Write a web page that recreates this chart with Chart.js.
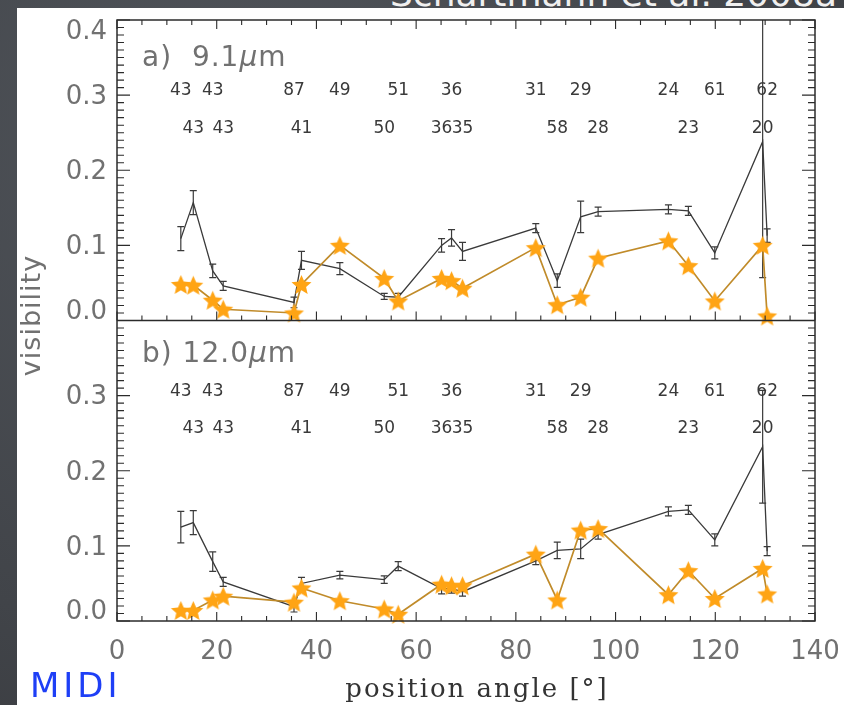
<!DOCTYPE html>
<html>
<head>
<meta charset="utf-8">
<script src="https://cdn.jsdelivr.net/npm/chart.js@4.4.1/dist/chart.umd.min.js"></script>
<style>
  html, body { margin: 0; padding: 0; }
  body {
    width: 844px; height: 705px; overflow: hidden; position: relative;
    background: radial-gradient(ellipse at 30% 20%, #51555b 0%, #414449 65%, #37393d 100%);
  }
  #sheet { position: absolute; left: 17px; top: 8px; right: 0; bottom: 0; background: #fff; }
  #cite {
    position: absolute; left: 390px; top: -24px; line-height: 36px;
    font-family: "DejaVu Sans"; font-size: 36px; color: #f0f0f0; white-space: nowrap;
  }
  #midi {
    position: absolute; left: 30px; top: 668px; line-height: 34px;
    font-family: "DejaVu Sans"; font-size: 34px; letter-spacing: 4px; color: #1e3ff6;
  }
  #plot { position: absolute; left: 0; top: 0; }
</style>
</head>
<body>
<div id="sheet"></div>
<div id="cite">Schartmann et al. 2008a</div>
<canvas id="plot" width="844" height="705"></canvas>
<div id="midi">MIDI</div>

<script>
// position angles of the 21 baselines (degrees)
const angle = [12.8, 15.3, 19.2, 21.3, 35.5, 37.0, 44.7, 53.6, 56.4, 65.1, 67.1,
               69.3, 84.0, 88.3, 93.0, 96.5, 110.6, 114.6, 119.9, 129.5, 130.4];

// projected baseline length printed above each point
const baseLen = [43, 43, 43, 43, 87, 41, 49, 50, 51, 36, 36,
                 35, 31, 58, 29, 28, 24, 23, 61, 20, 62];

// a) 9.1 micron: measured visibility, its error, and the model (stars)
const visA = [0.109, 0.157, 0.066, 0.046, 0.024, 0.080, 0.069, 0.032, 0.031, 0.100, 0.110,
              0.092, 0.123, 0.053, 0.138, 0.145, 0.148, 0.146, 0.090, 0.238, 0.113];
const errA = [0.016, 0.016, 0.009, 0.006, 0.007, 0.012, 0.008, 0.004, 0.005, 0.009, 0.011,
              0.012, 0.006, 0.009, 0.021, 0.006, 0.006, 0.006, 0.008, 0.181, 0.009];
const modelA = [0.048, 0.047, 0.027, 0.015, 0.010, 0.048, 0.100, 0.056, 0.026, 0.056, 0.053,
                0.043, 0.097, 0.021, 0.031, 0.083, 0.106, 0.073, 0.026, 0.100, 0.006];

// b) 12.0 micron
const visB = [0.125, 0.131, 0.079, 0.052, 0.019, 0.050, 0.061, 0.055, 0.073, 0.043, 0.043,
              0.039, 0.080, 0.094, 0.096, 0.115, 0.146, 0.148, 0.108, 0.232, 0.093];
const errB = [0.021, 0.016, 0.013, 0.006, 0.007, 0.008, 0.005, 0.005, 0.006, 0.007, 0.006,
              0.006, 0.005, 0.011, 0.013, 0.006, 0.006, 0.006, 0.008, 0.075, 0.006];
const modelB = [0.014, 0.014, 0.028, 0.033, 0.025, 0.044, 0.027, 0.016, 0.009, 0.049, 0.047,
                0.047, 0.089, 0.028, 0.121, 0.123, 0.035, 0.067, 0.030, 0.070, 0.036];

const xTicks = [0, 20, 40, 60, 80, 100, 120, 140];
const yTicksTop = [0, 0.1, 0.2, 0.3, 0.4];
const yTicksBot = [0, 0.1, 0.2, 0.3];

const INK = '#2b2b2b';
const LABEL = '#717171';
const sans = 'DejaVu Sans';

function pairs(xs, ys) {
  return xs.map((x, i) => ({ x: x, y: ys[i] }));
}

// filled five-pointed star used as the model marker
function makeStar(r) {
  const size = Math.ceil(r * 2 + 4);
  const c = document.createElement('canvas');
  c.width = c.height = size;
  const g = c.getContext('2d');
  g.translate(size / 2, size / 2 + 1);
  g.beginPath();
  for (let i = 0; i < 10; i++) {
    const rad = i % 2 ? r * 0.46 : r;
    const a = -Math.PI / 2 + i * Math.PI / 5;
    g.lineTo(rad * Math.cos(a), rad * Math.sin(a));
  }
  g.closePath();
  g.fillStyle = '#ffa414';
  g.fill();
  return c;
}
const star = makeStar(10.5);

// scales should not push the plot box in to make room for end labels
function noEdgePadding(s) {
  s.paddingLeft = 0;
  s.paddingRight = 0;
  s.paddingTop = 0;
  s.paddingBottom = 0;
}

// keep the end labels of a panel inside its box (pad with a blank line)
function yLabel(v) {
  const txt = v.toFixed(1);
  if (v === 0) return [txt, ''];
  if (v >= 0.4) return ['', txt];
  return txt;
}

// box, inward ticks, error bars and text annotations
const frame = {
  id: 'frame',
  beforeDatasetsDraw(chart) {
    const ctx = chart.ctx, x = chart.scales.x;
    ctx.save();
    ctx.fillStyle = '#3a3a3a';
    ctx.font = '17px "' + sans + '"';
    ctx.textAlign = 'center';
    ctx.textBaseline = 'middle';
    [chart.scales.yTop, chart.scales.yBot].forEach(s => {
      angle.forEach((a, i) => {
        const row = i % 2 === 0 ? 0.306 : 0.256;
        ctx.fillText(String(baseLen[i]), x.getPixelForValue(a), s.getPixelForValue(row));
      });
    });
    ctx.restore();
  },
  afterDatasetDraw(chart, args) {
    const ds = chart.data.datasets[args.index];
    if (!ds.errors) return;
    const ctx = chart.ctx, area = chart.chartArea;
    const x = chart.scales.x, y = chart.scales[ds.yAxisID];
    ctx.save();
    ctx.beginPath();
    ctx.rect(area.left, area.top, area.right - area.left, area.bottom - area.top);
    ctx.clip();
    ctx.strokeStyle = ds.borderColor;
    ctx.lineWidth = 1.2;
    ds.data.forEach((p, i) => {
      const px = x.getPixelForValue(p.x);
      const lo = y.getPixelForValue(p.y - ds.errors[i]);
      const hi = y.getPixelForValue(p.y + ds.errors[i]);
      ctx.beginPath();
      ctx.moveTo(px, lo); ctx.lineTo(px, hi);
      ctx.moveTo(px - 3.5, lo); ctx.lineTo(px + 3.5, lo);
      ctx.moveTo(px - 3.5, hi); ctx.lineTo(px + 3.5, hi);
      ctx.stroke();
    });
    ctx.restore();
  },
  afterDraw(chart) {
    const ctx = chart.ctx;
    const { left, right, top, bottom } = chart.chartArea;
    const x = chart.scales.x, yT = chart.scales.yTop, yB = chart.scales.yBot;
    const mid = yT.bottom;
    ctx.save();
    ctx.strokeStyle = INK;
    ctx.lineWidth = 1.5;
    ctx.strokeRect(left, top, right - left, bottom - top);
    ctx.beginPath();
    ctx.moveTo(left, mid); ctx.lineTo(right, mid);
    ctx.stroke();

    ctx.lineWidth = 1.1;
    ctx.beginPath();
    for (let v = 0; v <= 140; v += 5) {
      const px = x.getPixelForValue(v);
      const len = v % 20 === 0 ? 9 : 5;
      ctx.moveTo(px, bottom); ctx.lineTo(px, bottom - len);
      ctx.moveTo(px, mid); ctx.lineTo(px, mid - len);
      ctx.moveTo(px, top); ctx.lineTo(px, top + len);
    }
    [yT, yB].forEach(s => {
      for (let k = 0; k <= 40; k++) {
        const py = s.getPixelForValue(k / 100);
        const len = k % 10 === 0 ? 13 : 7;
        ctx.moveTo(left, py); ctx.lineTo(left + len, py);
        ctx.moveTo(right, py); ctx.lineTo(right - len, py);
      }
    });
    ctx.stroke();

    // panel tags
    ctx.fillStyle = LABEL;
    ctx.textBaseline = 'alphabetic';
    ctx.textAlign = 'left';
    ctx.letterSpacing = '1px';
    const tag = (pre, y) => {
      ctx.font = '28px "' + sans + '"';
      ctx.fillText(pre, left + 25, y);
      let w = ctx.measureText(pre).width;
      ctx.font = 'italic 28px "' + sans + '"';
      ctx.fillText('\u03bc', left + 25 + w, y);
      w += ctx.measureText('\u03bc').width;
      ctx.font = '28px "' + sans + '"';
      ctx.fillText('m', left + 25 + w, y);
    };
    tag('a)  9.1', yT.top + 46);
    tag('b) 12.0', yB.top + 41);

    // x title, slightly right of centre
    ctx.letterSpacing = '2px';
    ctx.fillStyle = '#333';
    ctx.textAlign = 'center';
    ctx.font = '26px "DejaVu Serif"';
    ctx.fillText('position angle [\u00b0]', (left + right) / 2 + 11, 697);

    // shared y title
    ctx.letterSpacing = '1px';
    ctx.fillStyle = LABEL;
    ctx.translate(33, (top + bottom) / 2 - 5);
    ctx.rotate(-Math.PI / 2);
    ctx.textBaseline = 'middle';
    ctx.font = '27px "' + sans + '"';
    ctx.fillText('visibility', 0, 0);
    ctx.restore();
  }
};

const tickFont = { family: sans, size: 26 };

function yAxis(ticks) {
  return {
    type: 'linear', position: 'left', stack: 'vis', stackWeight: 1,
    min: 0, max: 0.4,
    afterBuildTicks: s => { s.ticks = ticks.map(v => ({ value: v })); },
    afterFit: s => { s.width = 117; noEdgePadding(s); },
    ticks: {
      font: { family: sans, size: 26, lineHeight: 0.8 },
      color: LABEL, padding: 10, labelOffset: 2, autoSkip: false, callback: yLabel
    },
    grid: { display: false, drawTicks: false },
    border: { display: false }
  };
}

new Chart(document.getElementById('plot'), {
  type: 'line',
  data: {
    datasets: [
      { label: 'model 9.1', data: pairs(angle, modelA), yAxisID: 'yTop',
        borderColor: '#c08b2a', borderWidth: 1.7, pointStyle: star, order: 0 },
      { label: 'model 12.0', data: pairs(angle, modelB), yAxisID: 'yBot',
        borderColor: '#c08b2a', borderWidth: 1.7, pointStyle: star, order: 0 },
      { label: 'MIDI 9.1', data: pairs(angle, visA), errors: errA, yAxisID: 'yTop',
        borderColor: '#3a3a3a', borderWidth: 1.3, pointRadius: 0, order: 1 },
      { label: 'MIDI 12.0', data: pairs(angle, visB), errors: errB, yAxisID: 'yBot',
        borderColor: '#3a3a3a', borderWidth: 1.3, pointRadius: 0, order: 1 }
    ]
  },
  options: {
    responsive: false,
    animation: false,
    clip: false,
    layout: { padding: { top: 20, right: 29, left: 0, bottom: 0 } },
    elements: { line: { tension: 0 } },
    plugins: { legend: { display: false }, tooltip: { enabled: false } },
    scales: {
      x: {
        type: 'linear', min: 0, max: 140,
        afterBuildTicks: s => { s.ticks = xTicks.map(v => ({ value: v })); },
        afterFit: s => { s.height = 84; noEdgePadding(s); },
        ticks: { font: tickFont, color: LABEL, padding: 16, maxRotation: 0, autoSkip: false },
        grid: { display: false, drawTicks: false },
        border: { display: false }
      },
      // stacked axes are laid out bottom-up in reverse order, so the lower panel comes first
      yBot: yAxis(yTicksBot),
      yTop: yAxis(yTicksTop)
    }
  },
  plugins: [frame]
});
</script>
</body>
</html>
